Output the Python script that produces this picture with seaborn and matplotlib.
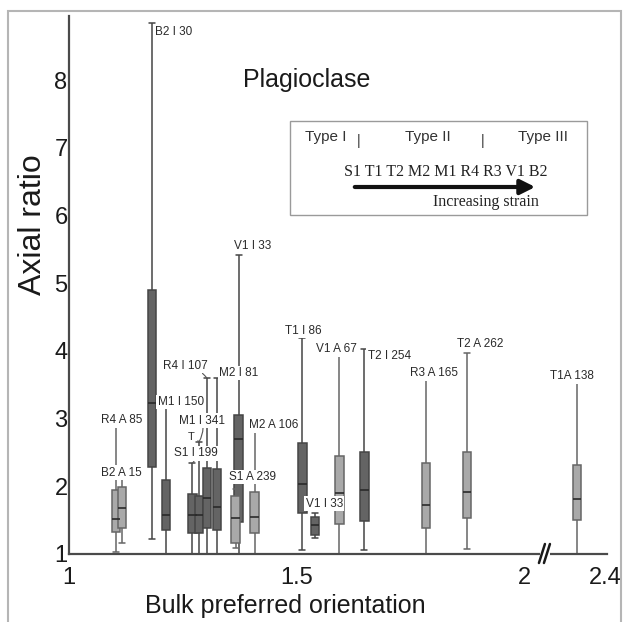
import numpy as np
import pandas as pd
import matplotlib
matplotlib.use("Agg")
import matplotlib.pyplot as plt
import matplotlib.transforms as mtransforms
from matplotlib.patches import Rectangle, FancyArrowPatch
from matplotlib.lines import Line2D
from matplotlib.ticker import MultipleLocator, FixedLocator, FuncFormatter
import seaborn as sns

# ---- data: one box per sample (rock code, grain class, number of grains) ----
sample_labels = ["R4 A 85", "B2 A 15", "B2 I 30", "M1 I 150", "S1 I 199", "M1 I 341",
                 "R4 I 107", "M2 I 81", "S1 A 239", "V1 I 33", "M2 A 106", "T1 I 86",
                 "V1 I 33", "V1 A 67", "T2 I 254", "R3 A 165", "T2 A 262", "T1A 138"]
grain_class = ["A", "A", "I", "I", "I", "I", "I", "I", "A", "I", "A", "I",
               "I", "A", "I", "A", "A", "A"]
bulk_po = [1.103, 1.117, 1.182, 1.213, 1.271, 1.286, 1.303, 1.325, 1.366, 1.373, 1.408,
           1.513, 1.541, 1.594, 1.649, 1.785, 1.875, 2.338]
whisker_low = [1.03, 1.16, 1.22, 1.00, 1.00, 1.00, 1.00, 1.00, 1.09, 1.00, 1.00, 1.06,
               1.23, 1.00, 1.06, 1.00, 1.07, 1.00]
q1 = [1.32, 1.38, 2.28, 1.35, 1.31, 1.31, 1.39, 1.36, 1.16, 1.48, 1.31, 1.60,
      1.28, 1.45, 1.49, 1.38, 1.53, 1.50]
median = [1.51, 1.68, 3.23, 1.57, 1.57, 1.57, 1.82, 1.70, 1.53, 2.70, 1.54, 2.04,
          1.43, 1.90, 1.95, 1.72, 1.92, 1.81]
q3 = [1.945, 1.99, 4.90, 2.09, 1.88, 1.85, 2.27, 2.25, 1.85, 3.06, 1.91, 2.64,
      1.55, 2.45, 2.50, 2.34, 2.51, 2.31]
whisker_high = [2.87, 2.11, 8.85, 3.20, 2.34, 2.66, 3.60, 3.60, 1.96, 5.42, 2.83, 4.19,
                1.61, 3.95, 4.03, 3.76, 3.97, 3.52]

x_tick_values = [1, 1.5, 2, 2.4]
x_tick_labels = ["1", "1.5", "2", "2.4"]
strain_order = "S1 T1 T2 M2 M1 R4 R3 V1 B2"

# ---- axis break: values beyond the break are shifted left ----
BREAK_AT = 2.046
BREAK_SHIFT = 0.222


def to_axis(v):
    return v if v <= BREAK_AT else v - BREAK_SHIFT


# five-number summaries in long form: the box statistics reproduce these exactly
rows = []
for i in range(len(sample_labels)):
    for val in (whisker_low[i], q1[i], median[i], q3[i], whisker_high[i]):
        rows.append({"sample": i, "cls": grain_class[i],
                     "bpo": to_axis(bulk_po[i]), "ratio": val})
boxes = pd.DataFrame(rows)

# ---- style ----
sns.set_theme(style="white")
plt.rcParams["font.family"] = ["Liberation Sans", "DejaVu Sans"]

W, H = 626, 622
fig = plt.figure(figsize=(W / 100, H / 100), dpi=100)


def P(px, py):
    """Figure-fraction coordinates from pixel coordinates (origin top-left)."""
    return px / W, 1 - py / H


ax_l, ax_r, ax_t, ax_b = 69, 607, 16, 554
ax = fig.add_axes([ax_l / W, 1 - ax_b / H, (ax_r - ax_l) / W, (ax_b - ax_t) / H])

fills = {"I": "#646464", "A": "#a9a9a9"}
edges = {"I": "#454545", "A": "#666666"}
box_w = 0.0187

for cls in ("I", "A"):
    for i in range(len(sample_labels)):
        if grain_class[i] != cls:
            continue
        sub = boxes[boxes["sample"] == i]
        sns.boxplot(data=sub, x="bpo", y="ratio", native_scale=True, orient="x",
                    width=box_w, whis=(0, 100), color=fills[cls], saturation=1,
                    linecolor=edges[cls], linewidth=1.1, showfliers=False,
                    capwidths=0.013,
                    medianprops=dict(color="#2a2a2a", linewidth=1.2), ax=ax)

# ---- axes ----
ax.set_xlim(1.0, 2.1824)
ax.set_ylim(1.0, 8.947)
ax.set_xlabel("")
ax.set_ylabel("")
for s in ("top", "right"):
    ax.spines[s].set_visible(False)
for s in ("left", "bottom"):
    ax.spines[s].set_color("#4a4a4a")
    ax.spines[s].set_linewidth(1.6)

label_pos = {round(to_axis(v), 4): t for v, t in zip(x_tick_values, x_tick_labels)}
x_major = sorted(set([round(v, 4) for v in np.arange(1.0, 2.19, 0.05)] + list(label_pos)))
ax.xaxis.set_major_locator(FixedLocator(x_major))
ax.xaxis.set_major_formatter(FuncFormatter(lambda v, p: label_pos.get(round(v, 4), "")))
ax.xaxis.set_minor_locator(MultipleLocator(0.01))

ax.yaxis.set_major_locator(MultipleLocator(0.5))
ax.yaxis.set_major_formatter(FuncFormatter(
    lambda v, p: f"{int(round(v))}" if abs(v - round(v)) < 1e-6 else ""))
ax.yaxis.set_minor_locator(MultipleLocator(0.1))

ax.tick_params(axis="both", which="both", direction="in", color="#444444")
ax.tick_params(axis="both", which="major", length=6, width=1.0, labelsize=17,
               labelcolor="#1a1a1a")
ax.tick_params(axis="both", which="minor", length=3, width=0.7)
ax.tick_params(axis="x", which="major", pad=9)
ax.tick_params(axis="y", which="major", pad=1)

# ---- box annotations (offsets in pixels from the top whisker) ----
label_offsets = [(6, 7), (-1, 6), (3, -9), (15, 3), (4, 10), (3, 21),
                 (-21, 12), (22, 5), (17, 12), (14, 9), (19, 5), (1, 7),
                 (9, 9), (-3, 5), (25, -7), (8, -6), (13, 9), (-5, 7)]
leader_boxes = {4, 5, 6}
for i, text in enumerate(sample_labels):
    dx, dy = label_offsets[i]
    ha = "left" if i == 2 else "center"
    kw = {}
    if i in leader_boxes:
        kw["arrowprops"] = dict(arrowstyle="-", color="#555555", lw=0.8,
                                shrinkA=0, shrinkB=0,
                                connectionstyle="arc3,rad=-0.2")
    ax.annotate(text, xy=(to_axis(bulk_po[i]), whisker_high[i]),
                xytext=(dx, dy), textcoords="offset pixels",
                ha=ha, va="center", fontsize=8.5, color="#2a2a2a", zorder=6,
                bbox=dict(boxstyle="square,pad=0.12", fc="white", ec="none"),
                annotation_clip=False, **kw)

# small stray tag beside the M1 I 341 whisker
ax.annotate("T", xy=(to_axis(bulk_po[5]), whisker_high[5]), xytext=(-8, 5),
            textcoords="offset pixels", ha="center", va="center", fontsize=8,
            color="#2a2a2a", zorder=6,
            arrowprops=dict(arrowstyle="-", color="#555555", lw=0.8,
                            shrinkA=0, shrinkB=0))

fig.text(*P(307, 80), "Plagioclase", ha="center", va="center", fontsize=18,
         color="#1a1a1a")

# ---- axis break marks ----
fig.canvas.draw()
bx, by = ax.transData.transform((BREAK_AT, 1.0))
ident = mtransforms.IdentityTransform()
fig.add_artist(Rectangle((bx - 5, by - 3), 10, 6, transform=ident,
                         fc="white", ec="none", zorder=10))
for off in (-3, 2):
    fig.add_artist(Line2D([bx + off - 3, bx + off + 3], [by - 9, by + 10],
                          transform=ident, color="#1a1a1a", lw=1.8, zorder=11))

# ---- axis titles ----
fig.text(*P(33, 225), "Axial ratio", rotation=90, ha="center", va="center",
         fontsize=23, color="#1a1a1a")
fig.text(*P(285, 606), "Bulk preferred orientation", ha="center", va="center",
         fontsize=18, color="#1a1a1a")

# ---- strain legend box ----
x0, y0 = P(290, 215)
x1, y1 = P(587, 121)
fig.add_artist(Rectangle((x0, y0), x1 - x0, y1 - y0, transform=fig.transFigure,
                         fc="white", ec="#9a9a9a", lw=1.0, zorder=5))
for px, txt in ((326, "Type I"), (428, "Type II"), (543, "Type III")):
    fig.text(*P(px, 137), txt, ha="center", va="center", fontsize=11,
             color="#333333", zorder=6)
for px in (359, 483):
    fig.text(*P(px, 141), "|", ha="center", va="center", fontsize=10,
             color="#333333", zorder=6)
fig.text(*P(446, 172), strain_order, ha="center", va="center", fontsize=11.5,
         family="Liberation Serif", color="#222222", zorder=6)
fig.text(*P(486, 202), "Increasing strain", ha="center", va="center",
         fontsize=11.5, family="Liberation Serif", color="#222222", zorder=6)
fig.add_artist(FancyArrowPatch(
    P(352, 187), P(538, 187), transform=fig.transFigure, arrowstyle="-|>",
    mutation_scale=22, lw=3, color="#111111", zorder=6))

# ---- outer frame ----
fig.add_artist(Rectangle(P(8, 640), (621 - 8) / W, (640 - 11) / H,
                         transform=fig.transFigure, fill=False, ec="#b5b5b5",
                         lw=1.5, zorder=0))

fig.savefig("out.png", dpi=100)
